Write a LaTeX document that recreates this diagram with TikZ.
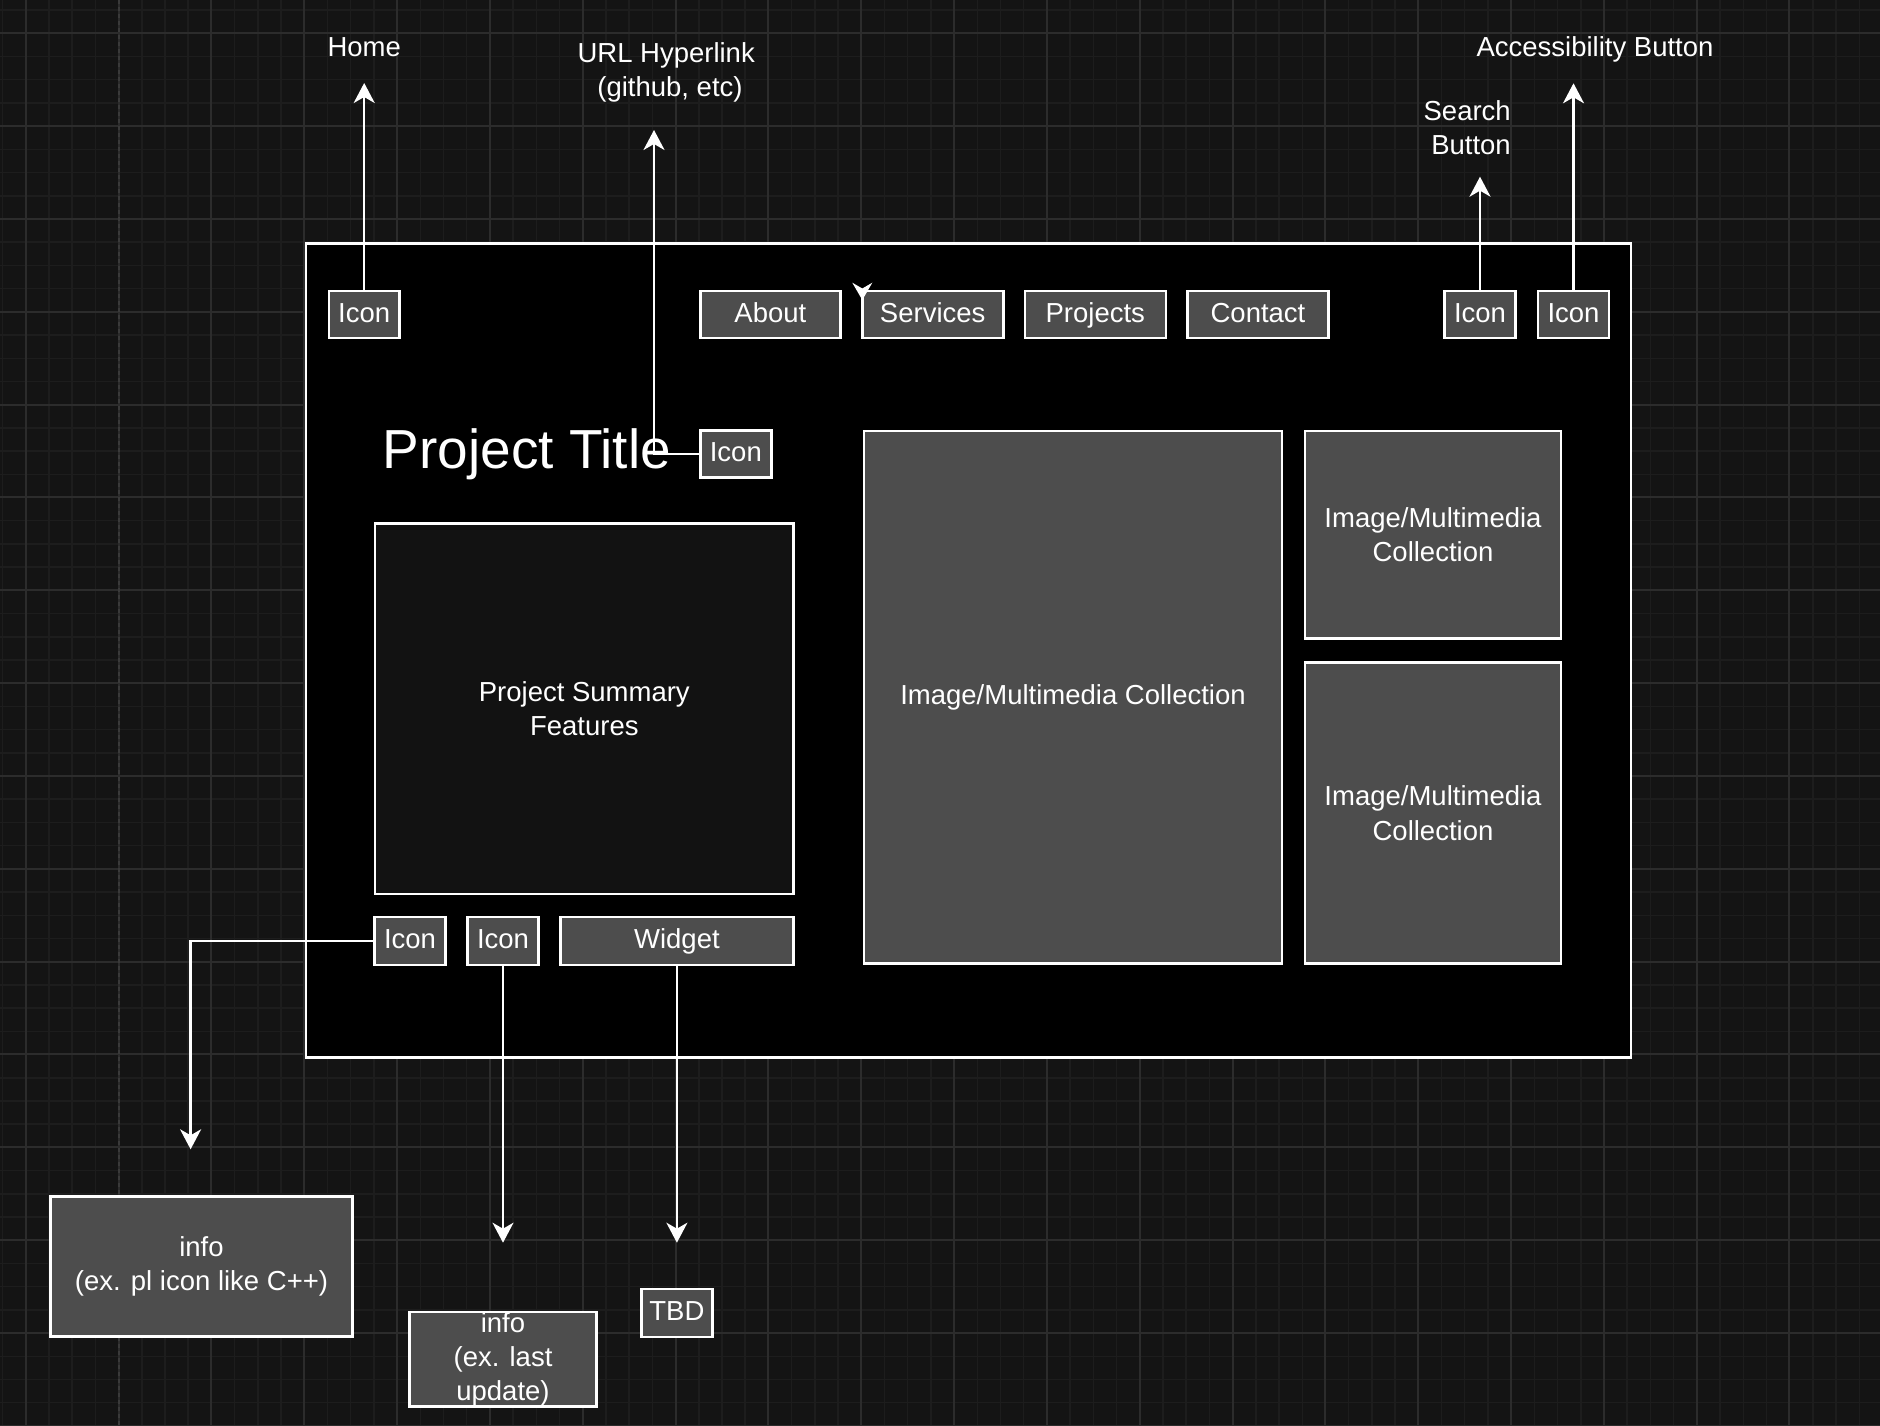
\documentclass[tikz,border=0pt]{standalone}
\usepackage{fontspec}
\setmainfont{Liberation Sans}
\usetikzlibrary{arrows.meta}
\definecolor{bgcol}{HTML}{141414}
\definecolor{gridminor}{HTML}{1D1D1D}
\definecolor{gridmajor}{HTML}{2C2C2C}
\definecolor{boxgray}{HTML}{4D4D4D}
\definecolor{dashgray}{HTML}{3A3A3A}
\definecolor{innerdark}{HTML}{121212}
\newcommand\lbfont{\fontsize{27.5}{34.4}\selectfont}
\newcommand\titlefont{\fontsize{55}{60}\selectfont}
\begin{document}
\begin{tikzpicture}[x=1pt,y=-1pt,
  gbox/.style={draw=white, line width=2.6pt, fill=boxgray, text=white, inner sep=0pt, font=\lbfont, align=center},
  oneline/.style={text height=19.7pt, text depth=4pt},
  lbl/.style={text=white, inner sep=0pt, font=\lbfont, align=center},
  arr/.style={draw=white, line width=2.4pt, -{Stealth[length=20pt,width=21pt,inset=6pt]}},
  minorline/.style={draw=gridminor, line width=1.5pt},
  majorline/.style={draw=gridmajor, line width=2pt},
]
\useasboundingbox (0,0) rectangle (1880,1426);
% background and grid
\fill[bgcol] (0,0) rectangle (1880,1426);
\foreach \i in {0,...,81} { \draw[minorline] ({2.49+23.21*\i},0) -- ++(0,1426); }
\foreach \j in {0,...,61} { \draw[minorline] (0,{10.1+23.21*\j}) -- ++(1880,0); }
\foreach \i in {0,...,19} { \draw[majorline] ({25.7+92.83*\i},0) -- ++(0,1426); }
\foreach \j in {0,...,15} { \draw[majorline] (0,{33.3+92.83*\j}) -- ++(1880,0); }
\draw[dashgray, line width=2pt, dash pattern=on 4pt off 3pt] (119,0) -- (119,1426);

% page frame
\node[draw=white, line width=2.6pt, fill=black, inner sep=0pt, minimum width=1324.8pt, minimum height=813.6pt] (page) at (968.4,650.4) {};

% top navigation
\node[gbox, oneline, minimum width=70.8pt, minimum height=46.8pt] (homeicon) at (364.2,314.4) {Icon};
\node[gbox, oneline, minimum width=140pt, minimum height=46.8pt] (about) at (770.4,314.4) {About};
\node[gbox, oneline, minimum width=141pt, minimum height=46.8pt] (services) at (932.7,314.4) {Services};
\node[gbox, oneline, minimum width=141pt, minimum height=46.8pt] (projects) at (1095.3,314.4) {Projects};
\node[gbox, oneline, minimum width=141pt, minimum height=46.8pt] (contact) at (1258,314.4) {Contact};
\node[gbox, oneline, minimum width=71pt, minimum height=46.8pt] (search) at (1480,314.4) {Icon};
\node[gbox, oneline, minimum width=71pt, minimum height=46.8pt] (access) at (1573.5,314.4) {Icon};

% title row
\node[text=white, inner sep=0pt, font=\titlefont, anchor=base west] (title) at (382.5,468.3) {Project Title};
\node[gbox, oneline, minimum width=71pt, minimum height=47pt] (ticon) at (735.8,453.8) {Icon};

% content
\node[draw=white, line width=2.6pt, fill=innerdark, text=white, inner sep=0pt, font=\lbfont, align=center, minimum width=418.3pt, minimum height=370.8pt] (summary) at (584.3,708.6) {Project Summary\\Features};
\node[gbox, minimum width=418pt, minimum height=532.8pt] (bigimg) at (1073,697.2) {Image/Multimedia Collection};
\node[gbox, minimum width=256pt, minimum height=207.6pt] (imgtop) at (1433,534.6) {Image/Multimedia\\Collection};
\node[gbox, minimum width=256pt, minimum height=301.2pt] (imgbot) at (1433,813) {Image/Multimedia\\Collection};

% bottom widgets
\node[gbox, oneline, minimum width=70.7pt, minimum height=47.8pt] (bicon1) at (410,940.9) {Icon};
\node[gbox, oneline, minimum width=70.8pt, minimum height=47.8pt] (bicon2) at (503,940.9) {Icon};
\node[gbox, oneline, minimum width=232.7pt, minimum height=47.8pt] (widget) at (676.9,940.9) {Widget};

% outside boxes
\node[gbox, minimum width=302pt, minimum height=139.5pt] (info1) at (201.5,1266.5) {info\\(ex. pl icon like C++)};
\node[gbox, minimum width=187pt, minimum height=93.5pt] (info2) at (503,1359.3) {info\\(ex. last\\update)};
\node[gbox, oneline, minimum width=70.7pt, minimum height=48pt] (tbd) at (676.9,1313) {TBD};

% labels
\node[lbl, anchor=base] (homelbl) at (364.2,56.5) {Home};
\node[lbl] (urllbl) at (670,72.4) {URL Hyperlink\hspace*{0.278em}\\(github, etc)};
\node[lbl] (searchlbl) at (1471,127.5) {Search\hspace*{0.278em}\\Button};
\node[lbl, anchor=base] (acclbl) at (1595,56.5) {Accessibility Button};

% connector end points
\coordinate (homeEnd) at (364.2,83);
\coordinate (urlEnd) at (654,130);
\coordinate (searchEnd) at (1480,176.7);
\coordinate (accEnd) at (1573.5,83.3);
\coordinate (ic1End) at (190.6,1149.3);
\coordinate (ic2End) at (503,1242.7);
\coordinate (widEnd) at (676.9,1242.7);

% connectors
\draw[arr] (homeicon.north) -- (homeEnd);
\draw[arr] (ticon.west) -| (urlEnd);
\draw[arr] (search.north) -- (searchEnd);
\draw[arr] (access.north) -- (accEnd);
\draw[arr] (bicon1.west) -| (ic1End);
\draw[arr] (bicon2.south) -- (ic2End);
\draw[arr] (widget.south) -- (widEnd);

% stray arrowhead near Services
\fill[white] (862.3,300) -- (852.3,282.7) -- (862.3,288.5) -- (872.3,282.7) -- cycle;
\end{tikzpicture}
\end{document}
